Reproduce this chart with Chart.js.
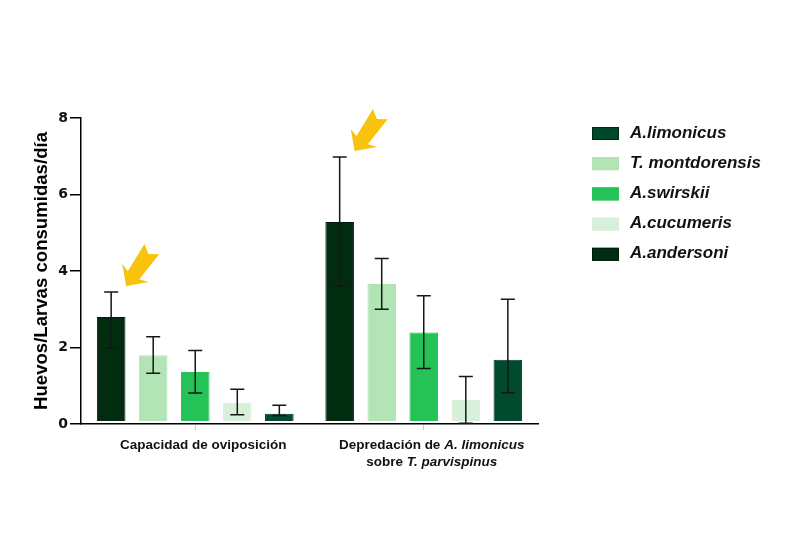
<!DOCTYPE html>
<html>
<head>
<meta charset="utf-8">
<script src="https://cdn.jsdelivr.net/npm/chart.js@4/dist/chart.umd.min.js"></script>
<style>
  html, body { margin: 0; padding: 0; background: #fff; }
  #wrap { width: 800px; height: 534px; position: relative; }
</style>
</head>
<body>
<div id="wrap"><canvas id="chart"></canvas></div>
<script>
// categories, *...* = italic part
const categories = ['Capacidad de oviposición', 'Depredación de *A. limonicus*\nsobre *T. parvispinus*']
const species = ['A.limonicus', 'T. montdorensis', 'A.swirskii', 'A.cucumeris', 'A.andersoni']

// mean per species, one value per category
const limonicus = [2.80, 5.28]
const montdorensis = [1.80, 3.66]
const swirskii = [1.36, 2.39]
const cucumeris = [0.56, 0.63]
const andersoni = [0.27, 1.68]

// error bar ends
const errHigh = [[3.45, 6.98], [2.28, 4.33], [1.92, 3.35], [0.91, 1.24], [0.49, 3.26]]
const errLow = [[1.99, 3.61], [1.33, 3.00], [0.81, 1.45], [0.24, 0.02], [0.22, 0.82]]

const yTicks = [0, 2, 4, 6, 8]
// [dataset, category] bars marked with an arrow
const highlighted = [[0, 0], [0, 1]]

const barColors = ['#022c10', '#b3e4b5', '#24c257', '#d8f0da', '#004a2d']
const barBorders = ['#001c08', '#b3e4b5', '#24c257', '#d8f0da', '#003320']
const legendColors = ['#00472a', '#b3e4b5', '#24c257', '#d8f0da', '#002e12']
const legendBorders = ['#002a18', '#b3e4b5', '#24c257', '#d8f0da', '#001a08']

const FONT = "'Liberation Sans', Arial, sans-serif"
const values = [limonicus, montdorensis, swirskii, cucumeris, andersoni]

const errorBars = {
  id: 'errorBars',
  afterDatasetsDraw(chart) {
    const ctx = chart.ctx, y = chart.scales.y
    ctx.save()
    ctx.strokeStyle = '#161616'
    ctx.lineWidth = 1.5
    for (let i = 0; i < values.length; i++) {
      const meta = chart.getDatasetMeta(i)
      meta.data.forEach((bar, j) => {
        const hi = y.getPixelForValue(errHigh[i][j])
        const lo = y.getPixelForValue(errLow[i][j])
        ctx.beginPath()
        ctx.moveTo(bar.x, hi); ctx.lineTo(bar.x, lo)
        ctx.moveTo(bar.x - 7, hi); ctx.lineTo(bar.x + 7, hi)
        ctx.moveTo(bar.x - 7, lo); ctx.lineTo(bar.x + 7, lo)
        ctx.stroke()
      })
    }
    ctx.restore()
  }
}

const arrows = {
  id: 'arrows',
  afterDraw(chart) {
    const ctx = chart.ctx, y = chart.scales.y
    // arrow outline, tip at 0,0, pointing back along +u
    const shape = [[0, 0], [16, -16], [13, -7], [45, -9], [39, 0], [45, 9], [13, 7], [16, 16]]
    for (const [i, j] of highlighted) {
      const bar = chart.getDatasetMeta(i).data[j]
      const tipX = bar.x + 15
      const tipY = y.getPixelForValue(errHigh[i][j]) - 6
      ctx.save()
      ctx.translate(tipX, tipY)
      ctx.rotate(Math.atan2(-0.82, 0.57))
      ctx.fillStyle = '#f9c30d'
      ctx.beginPath()
      shape.forEach((p, k) => k ? ctx.lineTo(p[0], p[1]) : ctx.moveTo(p[0], p[1]))
      ctx.closePath()
      ctx.fill()
      ctx.restore()
    }
  }
}

function drawRich(ctx, text, cx, cy, size) {
  const parts = text.split('*')
  let total = 0
  parts.forEach((p, k) => {
    ctx.font = (k % 2 ? 'italic ' : '') + 'bold ' + size + 'px ' + FONT
    total += ctx.measureText(p).width
  })
  let x = cx - total / 2
  parts.forEach((p, k) => {
    ctx.font = (k % 2 ? 'italic ' : '') + 'bold ' + size + 'px ' + FONT
    ctx.fillText(p, x, cy)
    x += ctx.measureText(p).width
  })
}

const xLabels = {
  id: 'xLabels',
  afterDraw(chart) {
    const ctx = chart.ctx, x = chart.scales.x
    ctx.save()
    ctx.fillStyle = '#111'
    ctx.textAlign = 'left'
    ctx.textBaseline = 'middle'
    categories.forEach((c, j) => {
      const cx = x.getPixelForValue(j) + 8
      c.split('\n').forEach((line, k) => drawRich(ctx, line, cx, x.top + 21 + k * 17, 13.5))
    })
    ctx.restore()
  }
}

const sideLegend = {
  id: 'sideLegend',
  afterDraw(chart) {
    const ctx = chart.ctx
    ctx.save()
    ctx.textBaseline = 'middle'
    ctx.font = 'italic bold 17px ' + FONT
    species.forEach((s, i) => {
      const cy = 133 + i * 30.2
      ctx.fillStyle = legendColors[i]
      ctx.fillRect(592, cy - 6, 27, 13)
      ctx.strokeStyle = legendBorders[i]
      ctx.lineWidth = 1
      ctx.strokeRect(592.5, cy - 5.5, 26, 12)
      ctx.fillStyle = '#111'
      ctx.fillText(s, 630, cy)
    })
    ctx.restore()
  }
}

const datasets = species.map((s, i) => ({
  label: s,
  data: values[i],
  base: 0.08,
  backgroundColor: barColors[i],
  borderColor: barBorders[i],
  borderWidth: 1,
  categoryPercentage: 0.92,
  barPercentage: 0.68
}))

new Chart(document.getElementById('chart'), {
  type: 'bar',
  data: { labels: categories, datasets: datasets },
  options: {
    responsive: true,
    maintainAspectRatio: false,
    animation: false,
    layout: { padding: { top: 118, right: 262, bottom: 0, left: 0 } },
    plugins: { legend: { display: false }, tooltip: { enabled: false } },
    scales: {
      x: {
        offset: true,
        grid: { offset: false, drawOnChartArea: false, tickLength: 6, color: '#cccccc' },
        border: { color: '#000', width: 1.5 },
        ticks: { display: false },
        afterFit: s => { s.height = 110 }
      },
      y: {
        min: 0, max: 8,
        afterBuildTicks: s => { s.ticks = yTicks.map(v => ({ value: v })) },
        grid: { drawOnChartArea: false, tickLength: 11, color: '#000', lineWidth: 1.5 },
        border: { color: '#000', width: 1.5 },
        ticks: { font: { family: "'DejaVu Sans', sans-serif", size: 14, weight: 'bold' }, color: '#111', padding: 2 },
        title: {
          display: true,
          text: 'Huevos/Larvas consumidas/día',
          font: { family: FONT, size: 18.6, weight: 'bold' },
          color: '#000',
          padding: { top: 31, bottom: 0 }
        },
        afterFit: s => { s.width = 81 }
      }
    }
  },
  plugins: [errorBars, arrows, xLabels, sideLegend]
})
</script>
</body>
</html>
